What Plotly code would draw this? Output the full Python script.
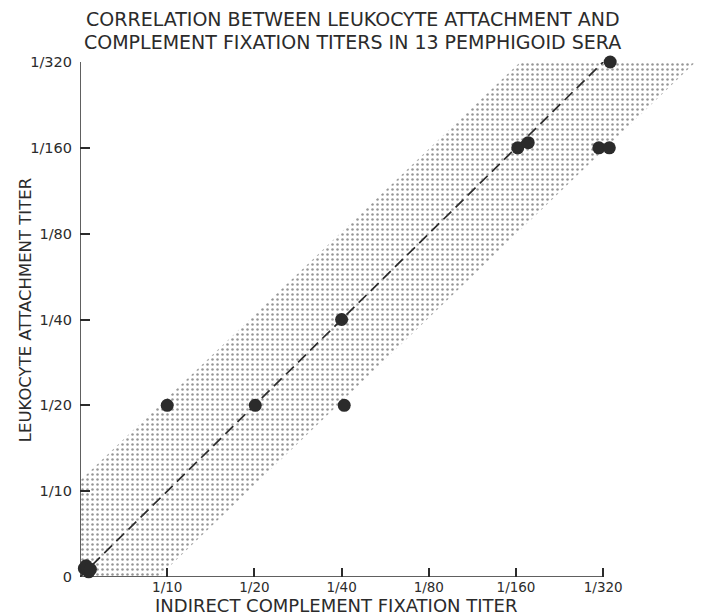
import math
import plotly.graph_objects as go

# ---------------- data ----------------
tick_labels = ["0", "1/10", "1/20", "1/40", "1/80", "1/160", "1/320"]
# titers expressed as reciprocal dilution (0 = negative)
cf_titer = [0, 0, 0, 0, 10, 20, 40, 40, 160, 160, 320, 320, 320]       # x: indirect complement fixation
la_titer = [0, 0, 0, 0, 20, 20, 40, 20, 160, 160, 160, 160, 320]       # y: leukocyte attachment
# small hand-placement offsets (in dilution steps) so coincident sera stay visible
x_nudge = [0.05, 0.10, 0.07, 0.12, 0.0, 0.01, 0.0, 0.03, 0.02, 0.14, -0.05, 0.07, 0.08]
y_nudge = [0.10, 0.06, 0.13, 0.09, 0.0, 0.0, 0.0, 0.0, 0.0, 0.06, 0.0, 0.0, 0.0]
# shaded agreement band (in dilution steps)
band_x = [0, 0.9, 7.08, 5.07, 0, 0]
band_y = [0, 0, 6.02, 6.02, 1.12, 0]
# line of identity
ident_x = [0, 6]
ident_y = [0, 6]


def step(t):
    return 0.0 if t == 0 else math.log2(t / 10.0) + 1.0


xs = [step(t) + d for t, d in zip(cf_titer, x_nudge)]
ys = [step(t) + d for t, d in zip(la_titer, y_nudge)]

FONT = "DejaVu Sans, sans-serif"
INK = "#2b2b2b"

fig = go.Figure()
fig.add_trace(go.Scatter(
    x=band_x, y=band_y, mode="lines", fill="toself",
    line=dict(width=0, color="rgba(0,0,0,0)"),
    fillcolor="rgba(0,0,0,0)",
    fillpattern=dict(shape=".", size=5, solidity=0.2, fgcolor="#2e2e2e",
                     bgcolor="rgba(0,0,0,0)"),
    hoverinfo="skip", showlegend=False))
fig.add_trace(go.Scatter(
    x=ident_x, y=ident_y, mode="lines",
    line=dict(color=INK, width=1.7, dash="11px,6px"),
    hoverinfo="skip", showlegend=False))
fig.add_trace(go.Scatter(
    x=xs, y=ys, mode="markers",
    marker=dict(size=13, color=INK, line=dict(width=0)),
    cliponaxis=False, showlegend=False))

# axis lines stop at the last titer
fig.add_shape(type="line", xref="x", yref="y", x0=0, y0=0, x1=6, y1=0,
              line=dict(color=INK, width=1.5))
fig.add_shape(type="line", xref="x", yref="y", x0=0, y0=0, x1=0, y1=6,
              line=dict(color=INK, width=1.5))

fig.update_xaxes(range=[0, 7.11], tickvals=[1, 2, 3, 4, 5, 6], ticktext=tick_labels[1:],
                 ticks="inside", ticklen=9, tickwidth=1.5, tickcolor=INK,
                 ticklabelstandoff=0,
                 showgrid=False, zeroline=False, showline=False,
                 tickfont=dict(family=FONT, size=13.5, color=INK))
fig.update_yaxes(range=[0, 6], tickvals=[0, 1, 2, 3, 4, 5, 6], ticktext=tick_labels,
                 ticks="inside", ticklen=10, tickwidth=1.5, tickcolor=INK,
                 ticklabelstandoff=7,
                 showgrid=False, zeroline=False, showline=False,
                 tickfont=dict(family=FONT, size=14.5, color=INK))

fig.add_annotation(text="CORRELATION BETWEEN LEUKOCYTE ATTACHMENT AND",
                   xref="paper", yref="paper", x=0.44, y=1.0, yshift=43,
                   xanchor="center", yanchor="middle", showarrow=False,
                   font=dict(family=FONT, size=19, color=INK))
fig.add_annotation(text="COMPLEMENT FIXATION TITERS IN 13 PEMPHIGOID SERA",
                   xref="paper", yref="paper", x=0.44, y=1.0, yshift=20,
                   xanchor="center", yanchor="middle", showarrow=False,
                   font=dict(family=FONT, size=19, color=INK))
fig.add_annotation(text="INDIRECT COMPLEMENT FIXATION TITER",
                   xref="paper", yref="paper", x=0.413, y=0, yshift=-28.5,
                   xanchor="center", yanchor="middle", showarrow=False,
                   font=dict(family=FONT, size=18, color=INK))
fig.add_annotation(text="LEUKOCYTE ATTACHMENT TITER", textangle=-90,
                   xref="paper", yref="paper", x=0, xshift=-55, y=0.518,
                   xanchor="center", yanchor="middle", showarrow=False,
                   font=dict(family=FONT, size=16.5, color=INK))

fig.update_layout(width=705, height=616, autosize=False,
                  margin=dict(l=80, r=5, t=62, b=39),
                  paper_bgcolor="white", plot_bgcolor="white",
                  showlegend=False)
fig.write_html("out.html", config={"displayModeBar": False},
               post_script="document.body.style.margin='0px';")
